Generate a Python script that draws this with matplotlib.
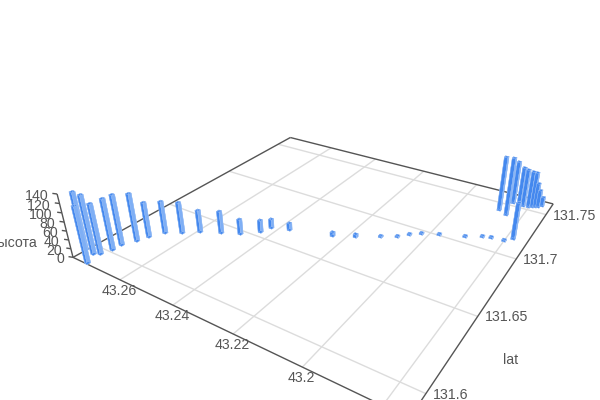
import numpy as np
import matplotlib
matplotlib.use('Agg')
import matplotlib.pyplot as plt
from mpl_toolkits.mplot3d.art3d import Line3DCollection
plt.rcParams['font.family']=['Liberation Sans','DejaVu Sans']

lon=[43.2801,43.2740,43.2764,43.2747,43.2735,43.2734,43.2713,43.2700,43.2676,43.2632,43.2590,43.2532,43.2479,43.2435,43.2422,43.2368,43.2239,43.2178,43.2115,43.2073,43.2048,43.2020,43.1973,43.1904,43.1861,43.1837,43.1800,43.1874,43.1845,43.1864,43.1851,43.1831,43.1818,43.1802,43.1792,43.1784,43.1776,43.1767,43.1781]
lat=[131.5945,131.5877,131.5943,131.5962,131.6018,131.6072,131.6139,131.6198,131.6270,131.6317,131.6374,131.6425,131.6470,131.6541,131.6603,131.6637,131.6707,131.6761,131.6829,131.6874,131.6924,131.6965,131.7005,131.7057,131.7103,131.7117,131.7125,131.7415,131.7383,131.7532,131.7533,131.7528,131.7528,131.7532,131.7543,131.7552,131.7560,131.7583,131.7167]
height=[131.4,126.4,132.5,113.5,116.4,115.2,109.5,81.3,75.0,72.7,52.1,51.9,35.5,28.6,21.6,16.8,9.5,7.1,3.6,3.5,3.6,3.6,3.6,3.5,3.5,3.5,3.5,127.9,135.4,88.0,101.9,92.1,89.5,87.0,84.6,58.6,41.8,22.3,84.0]
lon_grid=[43.26,43.24,43.22,43.2,43.18]
lon_labels=[43.26,43.24,43.22,43.2]
lat_ticks=[131.6,131.65,131.7,131.75]
z_ticks=[0,20,40,60,80,100,120,140]
lon_range=(43.174,43.28)
lat_range=(131.587,131.764)
INK='#555555'; GRID='#dcdcdc'; BAR='#4488ee'; BAR_LIGHT='#7fafF5'

# camera: floor homography calibrated on grid crossings, vertical vanishing point
def fit_floor():
    src=[(43.26,131.6),(43.18,131.6),(43.26,131.75),(43.18,131.75)]
    dst=[(142,266),(400,382),(319.5,155.1),(527,209.6)]
    A=[]
    T=np.array([[50,0,-43.2*50],[0,20,-131.65*20],[0,0,1.]])
    for (x,y),(u,v) in zip(src,dst):
        x0,y0=(x-43.2)*50,(y-131.65)*20
        A.append([x0,y0,1,0,0,0,-u*x0,-u*y0,-u]); A.append([0,0,0,x0,y0,1,-v*x0,-v*y0,-v])
    h=np.linalg.svd(np.array(A))[2][-1].reshape(3,3)
    h=h/h[2,2]
    return h@T
H=fit_floor()
VP=np.array([340,1320,1.])
p0=H@[lon_range[1],lat_range[0],1]
alpha=(p0[1]-194*p0[2])/(140*(194-VP[1]))
Mpix=np.array([[H[0,0],H[0,1],alpha*VP[0],H[0,2]],
               [H[1,0],H[1,1],alpha*VP[1],H[1,2]],
               [H[2,0],H[2,1],alpha,H[2,2]]])
def px(x,y,z=0):
    p=Mpix@[x,y,z,1]
    return p[0]/p[2],p[1]/p[2]

fig=plt.figure(figsize=(6,4),dpi=100)
ax=fig.add_axes([0,-0.25,1,1.5],projection='3d')
ax.set_axis_off()
ax.patch.set_alpha(0)
def get_proj():
    ax.apply_aspect()
    T=ax.transData.get_affine().get_matrix()
    F=np.array([[1,0,0],[0,-1,400],[0,0,1.]])
    R=np.linalg.inv(T)@F@Mpix
    dl=lon_range[1]-lon_range[0]; db=lat_range[1]-lat_range[0]
    w0=R[2]@np.array([lon_range[0],lat_range[0],0,1])
    d=np.array([1/dl,1/db,0.0005,-(lon_range[0]/dl+lat_range[0]/db)])*w0
    return np.vstack([R[0],R[1],d,R[2]])
ax.get_proj=get_proj
ax.computed_zorder=False

l0,l1=lon_range; b0,b1=lat_range
grid=[[(t,b0,0),(t,b1,0)] for t in lon_grid]+[[(l0,t,0),(l1,t,0)] for t in lat_ticks]
ax.add_collection3d(Line3DCollection(grid,colors=GRID,linewidths=1.0,zorder=1))
frame=[[(l1,b0,0),(l0,b0,0)],[(l0,b0,0),(l0,b1,0)],[(l0,b1,0),(l1,b1,0)],[(l1,b1,0),(l1,b0,0)],[(l1,b0,0),(l1,b0,140)]]
frame+=[[(l1,b0,t),(l1+0.0014,b0-0.0008,t)] for t in z_ticks]
ax.add_collection3d(Line3DCollection(frame,colors=INK,linewidths=1.0,zorder=2))
dx=0.0011; dy=0.0019
faces=[BAR,BAR,BAR,BAR,BAR_LIGHT,BAR]*len(lon)
ax.bar3d(np.array(lon)-dx/2,np.array(lat)-dy/2,np.zeros(len(lon)),dx,dy,height,color=faces,shade=False,
         edgecolor='#a9c8f6',linewidth=0.25,zorder=3)
ax.set_xlim(l0,l1); ax.set_ylim(b0,b1); ax.set_zlim(0,140)

def label(x,y,s,**k):
    fig.text(x/600,1-y/400,s,fontsize=10.2,color=INK,**k)
for t in lon_labels:
    u,v=px(t,b0)
    label(u-1,v+11,f'{t:g}',ha='center',va='center')
for t in lat_ticks:
    u,v=px(l0,t)
    label(u+7,v+1,f'{t:g}',ha='left',va='center')
for t in z_ticks:
    u,v=px(l1,b0,t)
    label(u-9,v+2,str(t),ha='right',va='center')
label(511,360,'lat',ha='center',va='center')
label(38,243,'Высота',ha='right',va='center')
fig.savefig('out.png',dpi=100)
